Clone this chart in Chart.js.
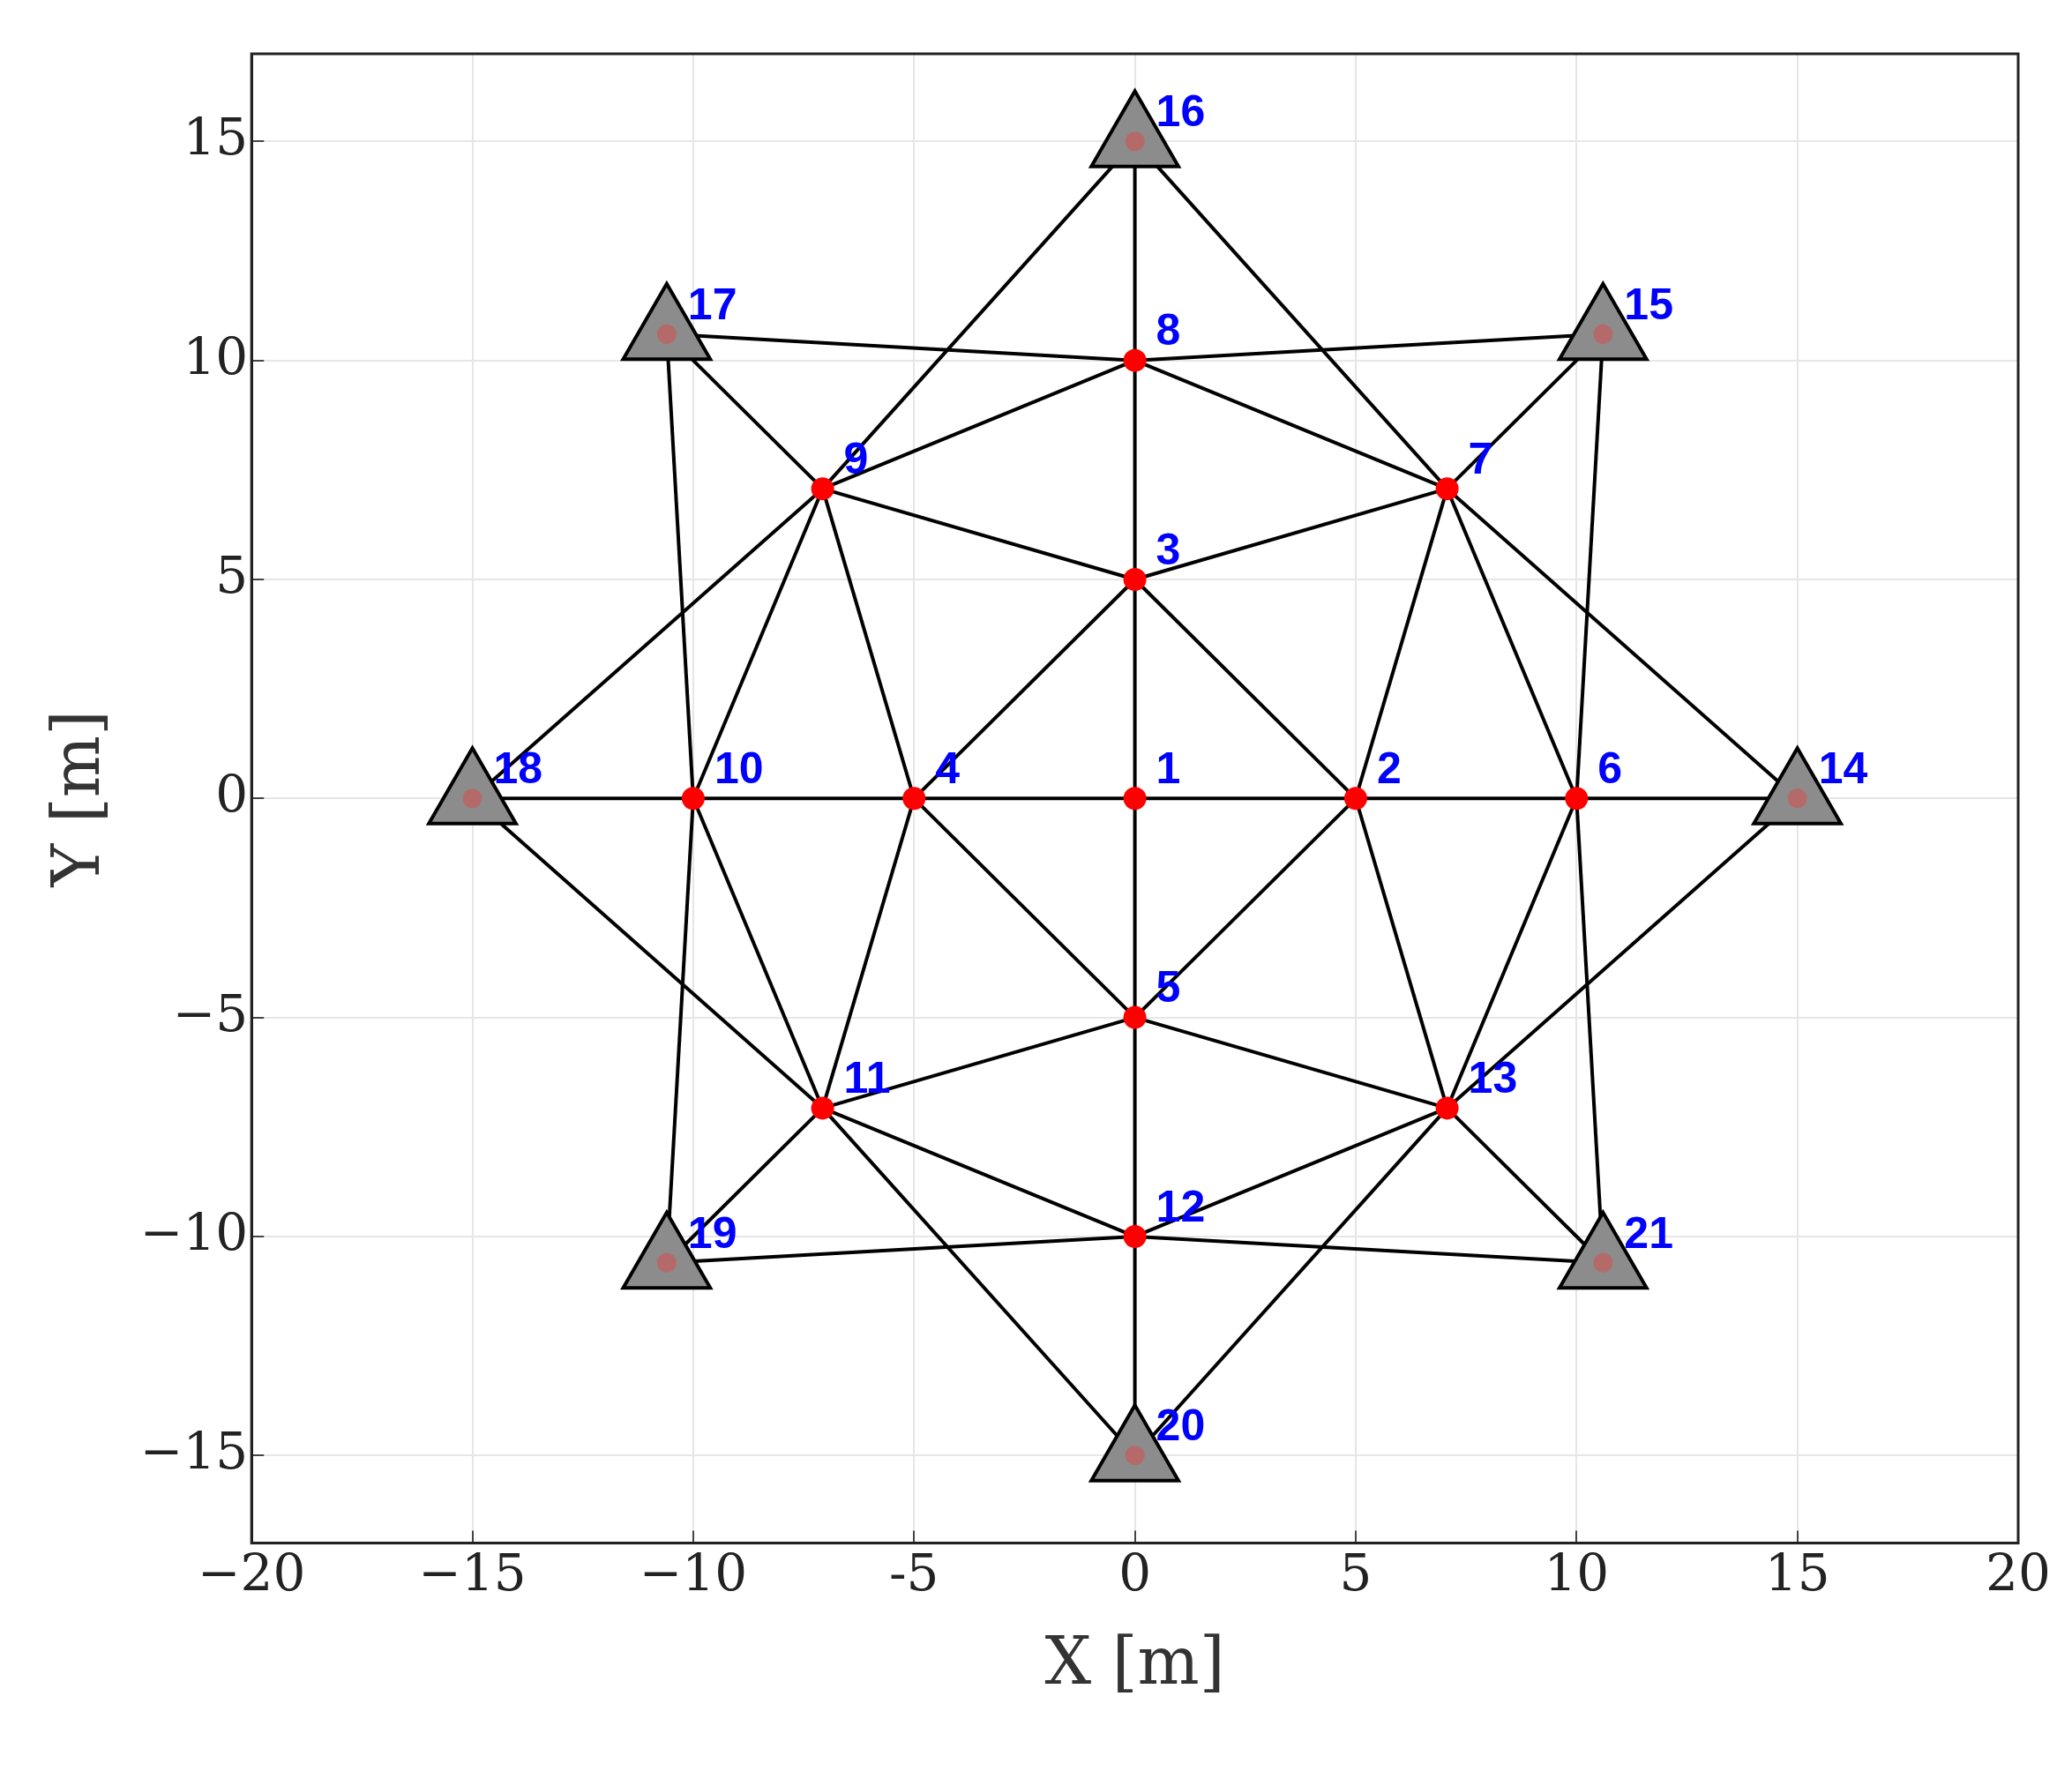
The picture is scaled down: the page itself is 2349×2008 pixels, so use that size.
<!DOCTYPE html>
<html>
<head>
<meta charset="utf-8">
<script src="https://cdn.jsdelivr.net/npm/chart.js@4"></script>
<style>
  body { margin: 0; background: #fff; }
</style>
</head>
<body>
<canvas id="net" width="2349" height="2008"></canvas>
<script>
// node ids, coordinates in metres
var nodeIds = [1, 2, 3, 4, 5, 6, 7, 8, 9, 10, 11, 12, 13, 14, 15, 16, 17, 18, 19, 20, 21];
var nodeX = [0, 5, 0, -5, 0, 10, 7.07, 0, -7.07, -10, -7.07, 0, 7.07, 15, 10.6, 0, -10.6, -15, -10.6, 0, 10.6];
var nodeY = [0, 0, 5, 0, -5, 0, 7.07, 10, 7.07, 0, -7.07, -10, -7.07, 0, 10.6, 15, 10.6, 0, -10.6, -15, -10.6];
// anchors (drawn as triangles)
var anchorIds = [14, 15, 16, 17, 18, 19, 20, 21];
// links between nodes
var edgeFrom = [16, 8, 3, 1, 5, 12, 18, 10, 4, 1, 2, 6, 3, 3, 5, 5, 3, 3, 8, 8, 9, 9, 7, 7,
                11, 11, 11, 11, 13, 13, 13, 13, 17, 15, 19, 21, 17, 15, 19, 21, 17, 19, 15, 21,
                16, 16, 20, 20, 18, 18, 14, 14];
var edgeTo   = [8, 3, 1, 5, 12, 20, 10, 4, 1, 2, 6, 14, 4, 2, 4, 2, 9, 7, 9, 7, 4, 10, 2, 6,
                4, 10, 5, 12, 2, 6, 5, 12, 8, 8, 12, 12, 9, 7, 11, 13, 10, 10, 6, 6,
                9, 7, 11, 13, 9, 11, 7, 13];
var xTicks = [-20, -15, -10, -5, 0, 5, 10, 15, 20];
var xTickText = ['\u221220', '\u221215', '\u221210', '-5', '0', '5', '10', '15', '20'];
var yTicks = [-15, -10, -5, 0, 5, 10, 15];
var yTickText = ['\u221215', '\u221210', '\u22125', '0', '5', '10', '15'];

function pos(id) {
  var i = nodeIds.indexOf(id);
  return { x: nodeX[i], y: nodeY[i] };
}

var datasets = [];
for (var e = 0; e < edgeFrom.length; e++) {
  datasets.push({
    data: [pos(edgeFrom[e]), pos(edgeTo[e])],
    showLine: true,
    borderColor: '#000',
    borderWidth: 4,
    pointRadius: 0,
    order: 3
  });
}
var anchorPts = anchorIds.map(pos);
datasets.push({
  data: anchorPts,
  pointStyle: 'triangle',
  pointRadius: 57,
  backgroundColor: '#8c8c8c',
  borderColor: '#000',
  borderWidth: 4,
  order: 2
});
datasets.push({
  data: anchorPts,
  pointRadius: 11,
  backgroundColor: '#b56a6a',
  borderWidth: 0,
  order: 1
});
var plainPts = [];
for (var i = 0; i < nodeIds.length; i++) {
  if (anchorIds.indexOf(nodeIds[i]) < 0) plainPts.push({ x: nodeX[i], y: nodeY[i] });
}
datasets.push({
  data: plainPts,
  pointRadius: 13,
  backgroundColor: '#ff0000',
  borderColor: '#ff0000',
  borderWidth: 0,
  order: 0
});

var labelPlugin = {
  id: 'labels',
  afterDatasetsDraw: function(chart) {
    var ctx = chart.ctx;
    var xs = chart.scales.x, ys = chart.scales.y;
    ctx.save();
    ctx.font = 'bold 50px "Liberation Sans", Arial, sans-serif';
    ctx.fillStyle = '#0000ff';
    ctx.textBaseline = 'bottom';
    for (var i = 0; i < nodeIds.length; i++) {
      ctx.fillText(String(nodeIds[i]), xs.getPixelForValue(nodeX[i]) + 24, ys.getPixelForValue(nodeY[i]) - 6);
    }
    ctx.restore();
  }
};

var framePlugin = {
  id: 'frame',
  beforeDatasetsDraw: function(chart) {
    var a = chart.chartArea, ctx = chart.ctx;
    ctx.save();
    ctx.strokeStyle = '#222';
    ctx.lineWidth = 3;
    ctx.strokeRect(a.left, a.top, a.right - a.left, a.bottom - a.top);
    ctx.restore();
  }
};

var serif = '"DejaVu Serif", "Liberation Serif", serif';
new Chart(document.getElementById('net'), {
  type: 'scatter',
  data: { datasets: datasets },
  plugins: [labelPlugin, framePlugin],
  options: {
    responsive: false,
    devicePixelRatio: 1,
    animation: false,
    layout: { padding: { top: 2, right: 48, left: 44, bottom: 70 } },
    plugins: { legend: { display: false }, tooltip: { enabled: false } },
    scales: {
      x: {
        min: -20, max: 20,
        afterBuildTicks: function(s) { s.ticks = xTicks.map(function(v) { return { value: v }; }); },
        ticks: {
          callback: function(v) { return xTickText[xTicks.indexOf(v)]; },
          font: { family: serif, size: 58 }, color: '#222', maxRotation: 0, padding: 18
        },
        grid: { color: '#e6e6e6', lineWidth: 2, tickLength: -14, tickColor: '#444' },
        border: { color: '#222', width: 3 },
        title: { display: true, text: 'X [m]', font: { family: serif, size: 74 }, color: '#333' }
      },
      y: {
        min: -17, max: 17,
        afterBuildTicks: function(s) { s.ticks = yTicks.map(function(v) { return { value: v }; }); },
        ticks: {
          callback: function(v) { return yTickText[yTicks.indexOf(v)]; },
          font: { family: serif, size: 58 }, color: '#222', padding: 18
        },
        grid: { color: '#e6e6e6', lineWidth: 2, tickLength: -14, tickColor: '#444' },
        border: { color: '#222', width: 3 },
        title: { display: true, text: 'Y [m]', font: { family: serif, size: 74 }, color: '#333' }
      }
    }
  }
});
</script>
</body>
</html>
